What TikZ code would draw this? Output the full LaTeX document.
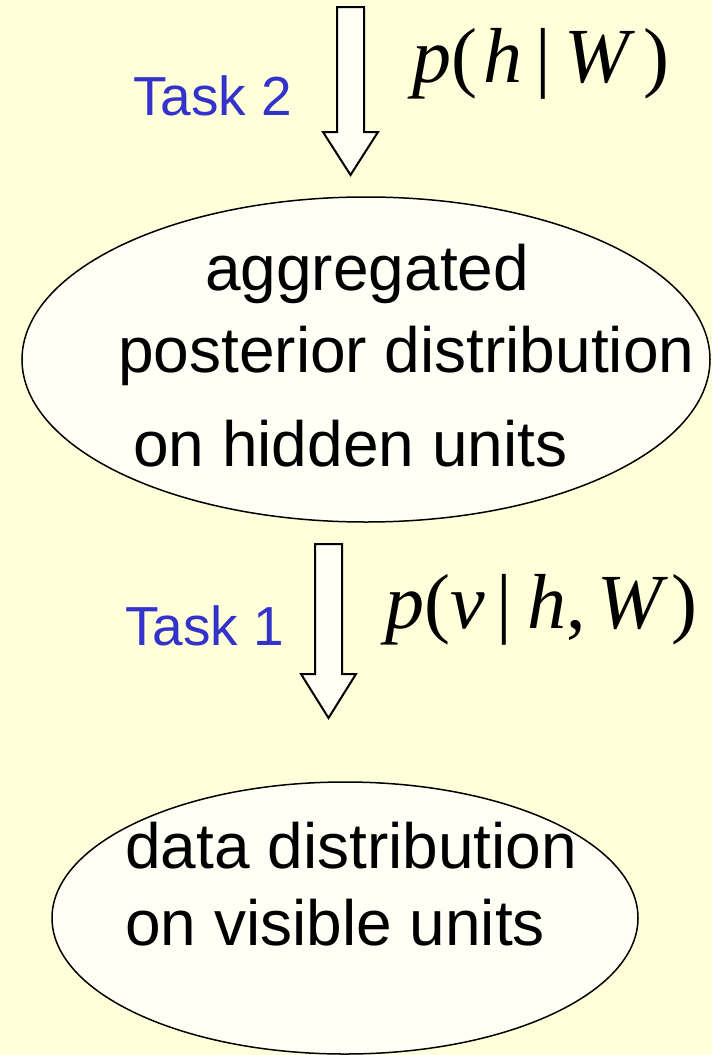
\documentclass[tikz,border=0pt]{standalone}
\usepackage{fontspec}
\setmainfont{Liberation Sans}
\newfontfamily\eqfont{Liberation Serif}
\usetikzlibrary{shapes.geometric}

\definecolor{bgyellow}{HTML}{FFFFD9}
\definecolor{shapefill}{HTML}{FFFFF6}
\definecolor{taskblue}{HTML}{3333CC}

\begin{document}
\begin{tikzpicture}[x=1pt, y=-1pt,
	distnode/.style={ellipse, draw=black, fill=shapefill, line width=1.5pt, inner sep=0pt},
	distline/.style={anchor=base west, inner sep=0pt, font=\fontsize{64}{76}\selectfont},
	tasklabel/.style={anchor=base west, inner sep=0pt, text=taskblue, font=\fontsize{55}{64}\selectfont},
	eqlabel/.style={anchor=base west, inner sep=0pt, font=\eqfont\fontsize{78}{90}\selectfont},
	blockarrow/.style={draw=black, fill=shapefill, line width=2pt, line join=miter}]
				\useasboundingbox (0,0) rectangle (712,1055);
				\fill[bgyellow] (0,0) rectangle (712,1055);

				\node[distnode, minimum width=688, minimum height=325] (hidden) at (366, 359.5) {};
				\node[distline] (hidden1) at (205, 290) {aggregated};
				\node[distline] (hidden2) at (118, 372) {posterior distribution};
				\node[distline] (hidden3) at (133, 466) {on hidden units};

				\node[distnode, minimum width=586, minimum height=272] (visible) at (345, 918) {};
				\node[distline] (visible1) at (125, 868) {data distribution};
				\node[distline] (visible2) at (125, 945) {on visible units};

				\coordinate (arrtop2) at (350.5, 7);
				\coordinate (arrtip2) at (350.5, 175);
				\draw[blockarrow] (arrtop2) ++(-13.5,0) -- ++(0,125) -- ++(-14,0) -- (arrtip2) -- ++(27.5,-43) -- ++(-14,0) -- ++(0,-125) -- cycle;
				\coordinate (arrtop1) at (328.5, 544);
				\coordinate (arrtip1) at (328.5, 718);
				\draw[blockarrow] (arrtop1) ++(-13.5,0) -- ++(0,130) -- ++(-14,0) -- (arrtip1) -- ++(27.5,-44) -- ++(-14,0) -- ++(0,-130) -- cycle;

				\node[tasklabel] (task2) at (133, 115) {Task 2};
				\node[tasklabel] (task1) at (125, 645) {Task 1};
				\node[eqlabel] (eq2) at (412, 82) {\textit{p}(\hspace{0.08em}\textit{h}\hspace{0.17em}|\hspace{0.17em}\textit{W}\hspace{0.1em})};
				\node[eqlabel] (eq1) at (385, 628) {\textit{p}(\textit{v}\hspace{0.15em}|\hspace{0.2em}\textit{h},\hspace{0.14em}\textit{W}\hspace{0.05em})};
\end{tikzpicture}
\end{document}
